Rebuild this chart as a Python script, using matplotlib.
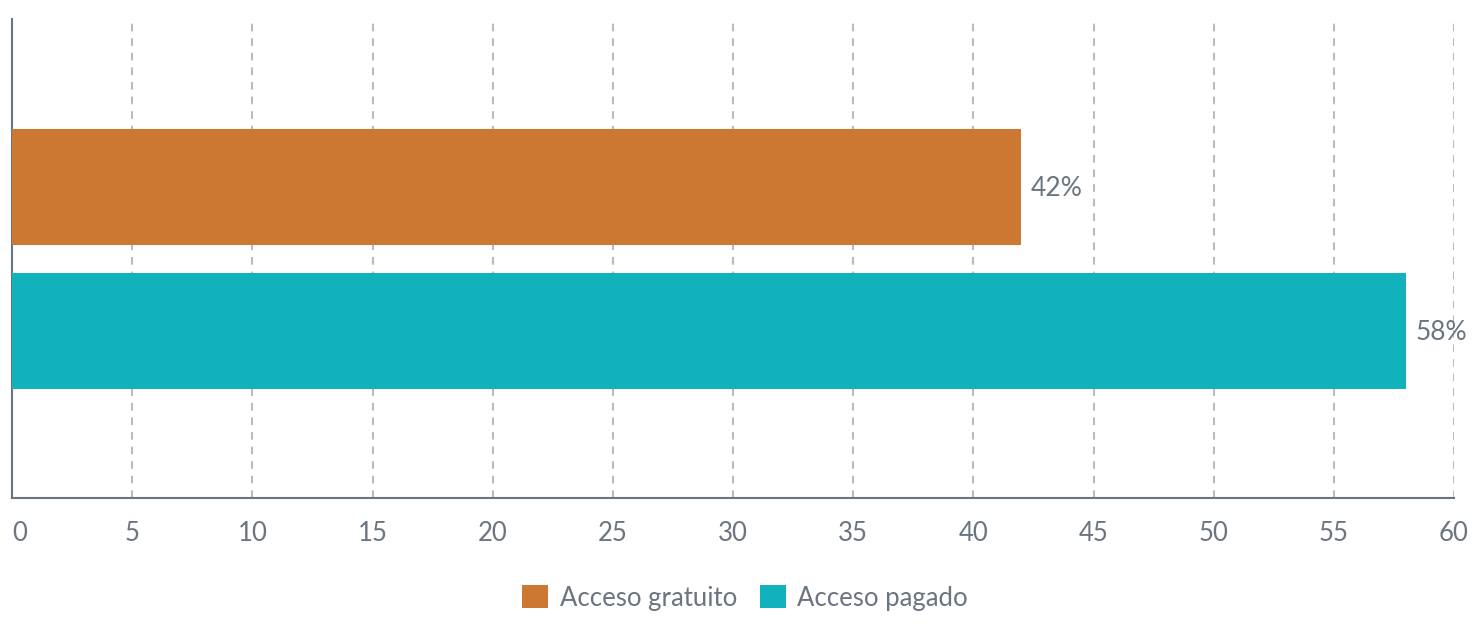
import matplotlib
matplotlib.use("Agg")
import matplotlib.pyplot as plt
from matplotlib.patches import Patch

categories = ["Acceso gratuito", "Acceso pagado"]
values = [42, 58]
labels = ["42%", "58%"]
colors = ["#CC7833", "#11B2BC"]
xticks = [0, 5, 10, 15, 20, 25, 30, 35, 40, 45, 50, 55, 60]

plt.rcParams['font.family'] = ['Lato', 'DejaVu Sans']
plt.rcParams['lines.scale_dashes'] = False
text_color = "#6b7580"

W, H = 1481, 624
fig = plt.figure(figsize=(W/100, H/100), dpi=100)
ax = fig.add_axes([12/W, (H-498)/H, (1454-12)/W, (498-19)/H])

pos = list(range(len(categories)))
ax.barh(pos, values, height=0.806, color=colors, zorder=3)
ax.set_ylim(2.16, -1.167)
ax.set_xlim(0, 60)
ax.set_xticks(xticks)
ax.set_xticklabels([str(t) for t in xticks])
ax.set_yticks([])
ax.tick_params(axis='x', length=0, pad=16.5, labelsize=18.5, labelcolor=text_color)
ax.get_xticklabels()[0].set_horizontalalignment('left')

for t in xticks[1:]:
    ax.axvline(t, color="#b8bcc2", lw=1.5, linestyle=(0, (5.5, 5)), zorder=1)

for s in ['top', 'right']:
    ax.spines[s].set_visible(False)
for s in ['left', 'bottom']:
    ax.spines[s].set_color(text_color)
    ax.spines[s].set_linewidth(1.5)

for p, v, l in zip(pos, values, labels):
    ax.annotate(l, (v, p), xytext=(7, -1), textcoords='offset points',
                va='center', ha='left', fontsize=19, color=text_color)

handles = [Patch(facecolor=c, edgecolor='none') for c in colors]
leg = fig.legend(handles, categories, loc='center', bbox_to_anchor=(745/W, 1-598/H),
                 ncol=2, frameon=False, fontsize=18.5, handlelength=1.0, handleheight=1.0,
                 handletextpad=0.45, columnspacing=0.9)
for t in leg.get_texts():
    t.set_color(text_color)

fig.savefig("out.png", dpi=100)
